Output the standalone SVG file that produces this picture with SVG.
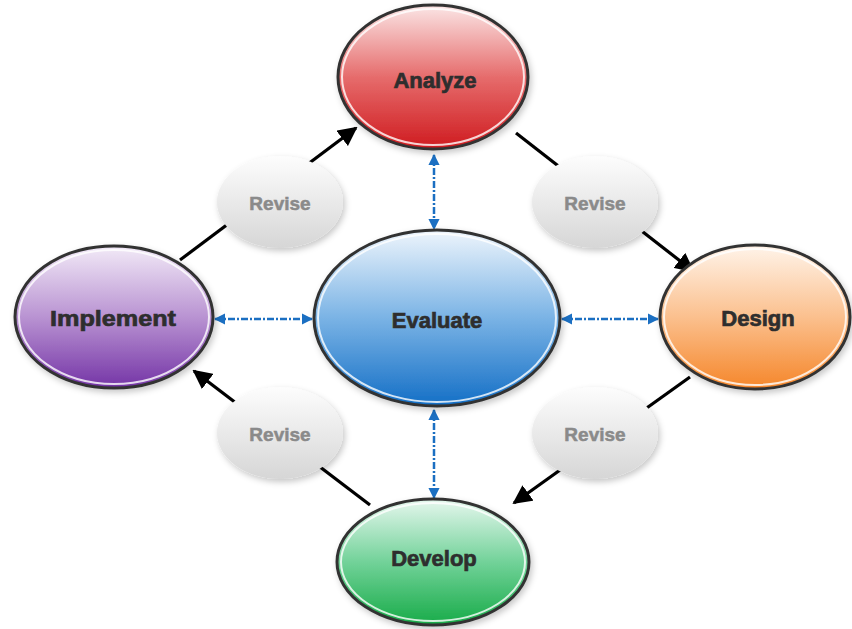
<svg xmlns="http://www.w3.org/2000/svg" width="852" height="629" viewBox="0 0 852 629">
<defs>
<linearGradient id="gRed" x1="0" y1="0" x2="0" y2="1"><stop offset="0" stop-color="#fbe6e6"/><stop offset="0.5" stop-color="#e66c6c"/><stop offset="1" stop-color="#cf1b1f"/></linearGradient>
<linearGradient id="gBlue" x1="0" y1="0" x2="0" y2="1"><stop offset="0" stop-color="#eef5fc"/><stop offset="0.5" stop-color="#7ab3e5"/><stop offset="1" stop-color="#146fc6"/></linearGradient>
<linearGradient id="gPurple" x1="0" y1="0" x2="0" y2="1"><stop offset="0" stop-color="#f2eaf7"/><stop offset="0.5" stop-color="#b993d2"/><stop offset="1" stop-color="#7434a6"/></linearGradient>
<linearGradient id="gOrange" x1="0" y1="0" x2="0" y2="1"><stop offset="0" stop-color="#fff4ea"/><stop offset="0.5" stop-color="#fbc08e"/><stop offset="1" stop-color="#f5862a"/></linearGradient>
<linearGradient id="gGreen" x1="0" y1="0" x2="0" y2="1"><stop offset="0" stop-color="#e6f7ee"/><stop offset="0.5" stop-color="#72d299"/><stop offset="1" stop-color="#17ab48"/></linearGradient>
<linearGradient id="gGray" x1="0" y1="0" x2="0" y2="1"><stop offset="0" stop-color="#fdfdfd"/><stop offset="1" stop-color="#d6d6d6"/></linearGradient>
<filter id="sh" x="-20%" y="-20%" width="140%" height="140%"><feDropShadow dx="2" dy="3" stdDeviation="3" flood-color="#000" flood-opacity="0.22"/></filter>
<marker id="blk" viewBox="0 0 10 10" refX="9" refY="5" markerWidth="6" markerHeight="6" orient="auto-start-reverse" markerUnits="strokeWidth"><path d="M0,0 L10,5 L0,10 z" fill="#000"/></marker>
<marker id="blu" viewBox="0 0 10 10" refX="9" refY="5" markerWidth="4.5" markerHeight="4.5" orient="auto-start-reverse" markerUnits="strokeWidth"><path d="M0,0 L10,5 L0,10 z" fill="#1b6fc2"/></marker>
<style>
.main{stroke:#333;stroke-width:3}
.rim{fill:none;stroke:#fff;stroke-width:2;opacity:0.8}
.lbl{font-family:"Liberation Sans",Arial,sans-serif;font-weight:bold;font-size:22px;fill:#2e2e2e;stroke:#2e2e2e;stroke-width:0.7;text-anchor:middle}
.rev{font-family:"Liberation Sans",Arial,sans-serif;font-weight:bold;font-size:19px;fill:#8a8a8a;stroke:#8a8a8a;stroke-width:0.5;text-anchor:middle}
.flow{stroke:#000;stroke-width:3.2;fill:none;marker-end:url(#blk)}
.eval{stroke:#1b6fc2;stroke-width:2.5;fill:none;stroke-dasharray:7 2 2 2;marker-start:url(#blu);marker-end:url(#blu)}
</style>
</defs>
<rect width="852" height="629" fill="#fff"/>
<g id="connectors">
<line class="flow" x1="180" y1="260" x2="356" y2="128"/>
<line class="flow" x1="516" y1="133" x2="693" y2="271"/>
<line class="flow" x1="690" y1="377" x2="514" y2="503"/>
<line class="flow" x1="370" y1="505" x2="194" y2="371"/>
<line class="eval" x1="434" y1="155" x2="434" y2="229"/>
<line class="eval" x1="434" y1="410" x2="434" y2="498"/>
<line class="eval" x1="215" y1="319" x2="312" y2="319"/>
<line class="eval" x1="562" y1="319" x2="658" y2="319"/>
</g>
<g id="revise-tl"><ellipse cx="280" cy="202" rx="63" ry="46" fill="url(#gGray)" filter="url(#sh)"/><text class="rev" x="280" y="210">Revise</text></g>
<g id="revise-tr"><ellipse cx="595" cy="202" rx="63" ry="46" fill="url(#gGray)" filter="url(#sh)"/><text class="rev" x="595" y="210">Revise</text></g>
<g id="revise-bl"><ellipse cx="280" cy="433" rx="63" ry="46" fill="url(#gGray)" filter="url(#sh)"/><text class="rev" x="280" y="441">Revise</text></g>
<g id="revise-br"><ellipse cx="595" cy="433" rx="63" ry="46" fill="url(#gGray)" filter="url(#sh)"/><text class="rev" x="595" y="441">Revise</text></g>
<g id="analyze"><ellipse class="main" cx="433" cy="77" rx="95" ry="72" fill="url(#gRed)" filter="url(#sh)"/><ellipse class="rim" cx="433" cy="77" rx="91" ry="68"/><text class="lbl" x="435" y="88">Analyze</text></g>
<g id="evaluate"><ellipse class="main" cx="437" cy="318" rx="123" ry="88" fill="url(#gBlue)" filter="url(#sh)"/><ellipse class="rim" cx="437" cy="318" rx="119" ry="84"/><text class="lbl" x="437" y="328">Evaluate</text></g>
<g id="implement"><ellipse class="main" cx="114" cy="317" rx="99" ry="71" fill="url(#gPurple)" filter="url(#sh)"/><ellipse class="rim" cx="114" cy="317" rx="95" ry="67"/><text class="lbl" x="113" y="326" textLength="126" lengthAdjust="spacingAndGlyphs">Implement</text></g>
<g id="design"><ellipse class="main" cx="755" cy="317" rx="95" ry="72" fill="url(#gOrange)" filter="url(#sh)"/><ellipse class="rim" cx="755" cy="317" rx="91" ry="68"/><text class="lbl" x="758" y="326">Design</text></g>
<g id="develop"><ellipse class="main" cx="433" cy="562" rx="96" ry="63" fill="url(#gGreen)" filter="url(#sh)"/><ellipse class="rim" cx="433" cy="562" rx="92" ry="59"/><text class="lbl" x="434" y="566">Develop</text></g>
</svg>
